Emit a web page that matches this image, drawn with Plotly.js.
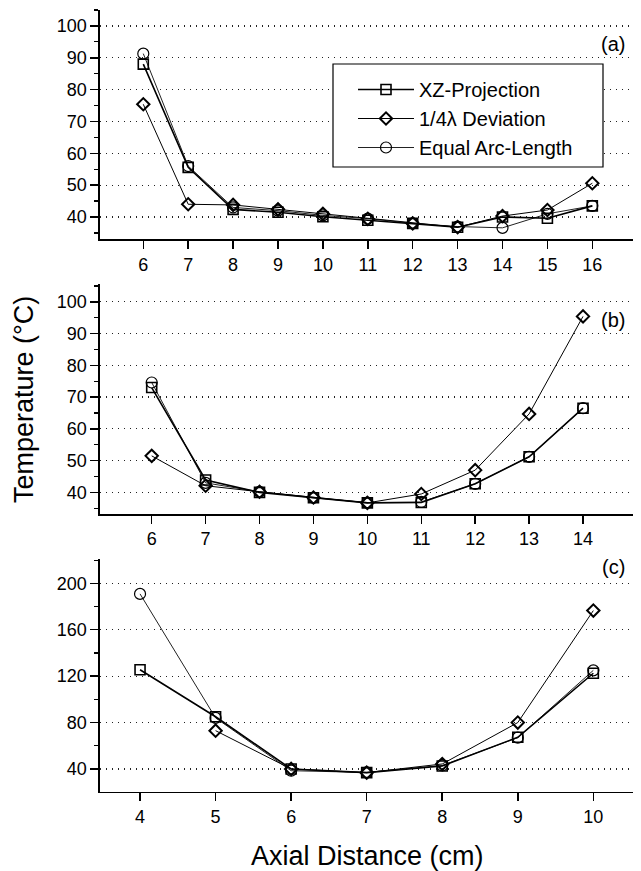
<!DOCTYPE html>
<html>
<head>
<meta charset="utf-8">
<script src="https://cdn.plot.ly/plotly-3.0.1.min.js"></script>
<style>html,body{margin:0;padding:0;background:#fff;}#chart{width:641px;height:871px;}</style>
</head>
<body>
<div id="chart"></div>
<script>
// Panel (a)
const xA = [6, 7, 8, 9, 10, 11, 12, 13, 14, 15, 16];
const aXZ = [88, 55.6, 42.4, 41.5, 40.1, 39, 38, 36.8, 40, 39.6, 43.5];
const aDev = [75.4, 44, 43.8, 42.4, 41, 39.4, 38, 36.8, 40.3, 42.2, 50.6];
const aEAL = [91.3, 56, 43, 42, 40.5, 39.5, 38, 37, 36.6, 41, 43.5];
// Panel (b)
const xB = [6, 7, 8, 9, 10, 11, 12, 13, 14];
const bXZ = [73, 43.9, 40, 38.3, 36.7, 36.8, 42.7, 51.2, 66.5];
const bDev = [51.5, 42.1, 40.2, 38.4, 36.7, 39.5, 47, 64.7, 95.4];
const bEAL = [74.6, 43, 40.2, 38.3, 36.8, 37, 42.7, 51.2, 66.5];
// Panel (c)
const xC = [4, 5, 6, 7, 8, 9, 10];
const cXZ = [125.5, 85, 40, 36.8, 42.6, 67.3, 122.5];
const cDev = [null, 73, 40, 36.8, 44.3, 80, 176.5];
const cEAL = [190.9, 84, 38.5, 37, 43, 67, 125];

const seriesNames = ["XZ-Projection", "1/4\u03bb Deviation", "Equal Arc-Length"];
const panelLabels = ["(a)", "(b)", "(c)"];
const xTitle = "Axial Distance (cm)";
const yTitle = "Temperature (\u00b0C)";

const FONT = "Liberation Sans, Arial, sans-serif";
const W = 641, H = 871;

const styles = [
  {sym: "square-open", size: 10, lw: 1.6, mlw: 1.6, color: "#000"},
  {sym: "diamond-open", size: 9.5, lw: 1, mlw: 2, color: "#000"},
  {sym: "circle-open", size: 11, lw: 1, mlw: 1.2, color: "#222"}
];

const panels = [
  {x: xA, ys: [aXZ, aDev, aEAL], xa: "x", ya: "y"},
  {x: xB, ys: [bXZ, bDev, bEAL], xa: "x2", ya: "y2"},
  {x: xC, ys: [cXZ, cDev, cEAL], xa: "x3", ya: "y3"}
];

const data = [];
panels.forEach((p, pi) => {
  [2, 1, 0].forEach(si => {
    const st = styles[si];
    data.push({
      type: "scatter", mode: "lines+markers",
      x: p.x, y: p.ys[si], xaxis: p.xa, yaxis: p.ya,
      name: seriesNames[si],
      legendgroup: "s" + si,
      showlegend: pi === 0,
      legendrank: si + 1,
      connectgaps: false,
      line: {color: st.color, width: st.lw},
      marker: {symbol: st.sym, size: st.size, color: "#000", line: {width: st.mlw, color: "#000"}}
    });
  });
});

function yax(domTop, domBot, range, dtick, mdtick) {
  return {
    domain: [1 - domBot / H, 1 - domTop / H],
    range: range, dtick: dtick, tick0: 0,
    showline: true, linecolor: "#000", linewidth: 1.6,
    ticks: "outside", ticklen: 8, tickwidth: 1.5, tickcolor: "#000",
    minor: {ticks: "outside", dtick: mdtick, ticklen: 4, tickwidth: 1.2, tickcolor: "#000", showgrid: false},
    showgrid: true, gridcolor: "#222", griddash: "1px,5px", gridwidth: 1.2,
    zeroline: false,
    tickfont: {family: FONT, size: 18, color: "#000"},
    fixedrange: true
  };
}
function xax(range, anchor) {
  return {
    domain: [100 / W, 633 / W],
    range: range, dtick: 1, anchor: anchor,
    showline: true, linecolor: "#000", linewidth: 1.6,
    ticks: "outside", ticklen: 8, tickwidth: 1.5, tickcolor: "#000",
    showgrid: false, zeroline: false,
    tickfont: {family: FONT, size: 18, color: "#000"},
    fixedrange: true
  };
}

const layout = {
  width: W, height: H,
  margin: {l: 0, r: 0, t: 0, b: 0},
  paper_bgcolor: "#fff", plot_bgcolor: "#fff",
  showlegend: true,
  font: {family: FONT, color: "#000"},
  xaxis: xax([5.036, 16.906], "y"),
  yaxis: yax(10, 239.3, [33, 105], 10, 5),
  xaxis2: xax([5.041, 14.927], "y2"),
  yaxis2: yax(284, 514, [33.2, 105.6], 10, 5),
  xaxis3: xax([3.47, 10.525], "y3"),
  yaxis3: yax(559.3, 791.7, [20.4, 220.7], 40, 20),
  legend: {
    x: 353 / W, y: 1 - 70 / H, xanchor: "left", yanchor: "top",
    bgcolor: "rgba(0,0,0,0)", bordercolor: "#000", borderwidth: 0,
    font: {family: FONT, size: 20, color: "#000"},
    traceorder: "normal", itemwidth: 56,
    tracegroupgap: 0
  },
  shapes: [
    {type: "rect", xref: "paper", yref: "paper", x0: 333 / W, x1: 603 / W, y0: 1 - 167 / H, y1: 1 - 64 / H,
     fillcolor: "#fff", line: {color: "#000", width: 1.2}, layer: "above"}
  ],
  annotations: [
    {text: panelLabels[0], xref: "paper", yref: "paper", x: 627 / W, y: 1 - 44 / H, xanchor: "right", yanchor: "middle", showarrow: false, font: {family: FONT, size: 20, color: "#000"}},
    {text: panelLabels[1], xref: "paper", yref: "paper", x: 627 / W, y: 1 - 320 / H, xanchor: "right", yanchor: "middle", showarrow: false, font: {family: FONT, size: 20, color: "#000"}},
    {text: panelLabels[2], xref: "paper", yref: "paper", x: 627 / W, y: 1 - 567 / H, xanchor: "right", yanchor: "middle", showarrow: false, font: {family: FONT, size: 20, color: "#000"}},
    {text: yTitle, xref: "paper", yref: "paper", x: 24 / W, y: 1 - 400 / H, xanchor: "center", yanchor: "middle", textangle: -90, showarrow: false, font: {family: FONT, size: 27, color: "#000"}},
    {text: xTitle, xref: "paper", yref: "paper", x: 367 / W, y: 1 - 856 / H, xanchor: "center", yanchor: "middle", showarrow: false, font: {family: FONT, size: 27, color: "#000"}}
  ]
};

Plotly.newPlot("chart", data, layout, {displayModeBar: false, staticPlot: true});
</script>
</body>
</html>
